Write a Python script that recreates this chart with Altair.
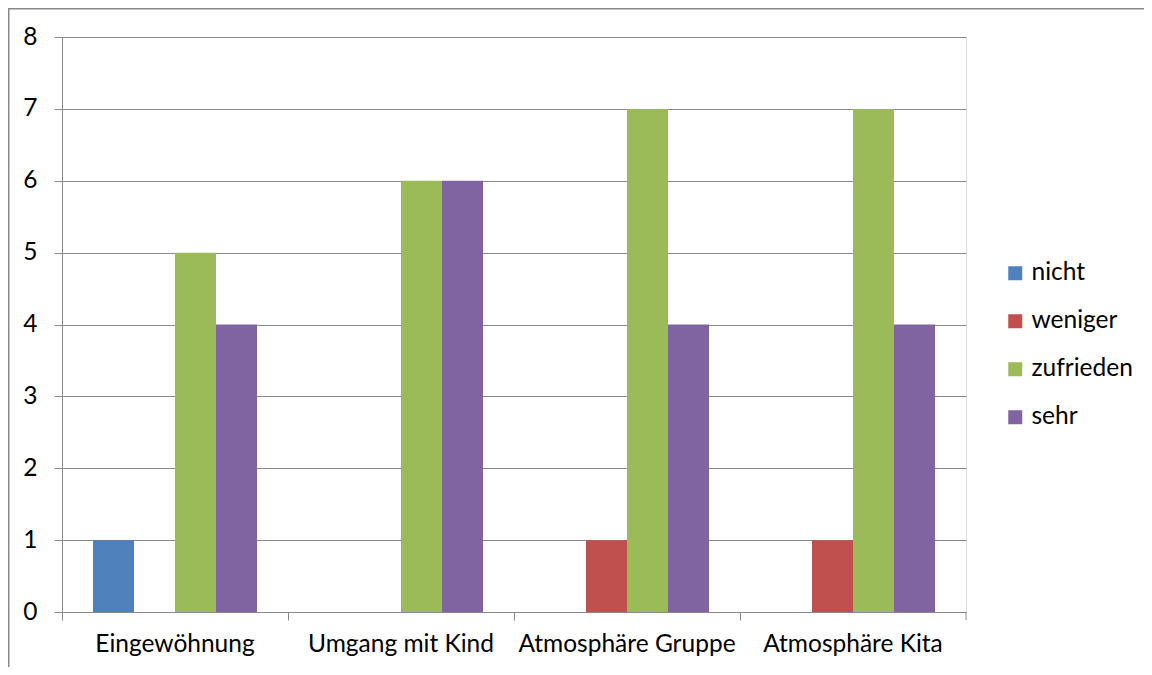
import altair as alt
import pandas as pd

categories = ["Eingewöhnung", "Umgang mit Kind", "Atmosphäre Gruppe", "Atmosphäre Kita"]
series = ["nicht", "weniger", "zufrieden", "sehr"]
colors = ["#4F81BD", "#C0504D", "#9BBB59", "#8064A2"]
nicht = [1, 0, 0, 0]
weniger = [0, 0, 1, 1]
zufrieden = [5, 6, 7, 7]
sehr = [4, 6, 4, 4]
y_ticks = [0, 1, 2, 3, 4, 5, 6, 7, 8]

rows = []
for i, c in enumerate(categories):
    for s, vals in zip(series, [nicht, weniger, zufrieden, sehr]):
        rows.append({"Kategorie": c, "Serie": s, "Wert": vals[i]})
df = pd.DataFrame(rows)

W, H = 904, 575
PL, PT, PR, PB = 54, 29, 178, 55
FONT = "Lato"
FS = 24.5
GRAY = "#898989"

bars = alt.Chart(df).mark_bar(strokeWidth=0).encode(
    x=alt.X("Kategorie:N", sort=categories, title=None,
            scale=alt.Scale(paddingInner=0, paddingOuter=0),
            axis=alt.Axis(labelAngle=0, bandPosition=0, tickSize=8, tickColor=GRAY,
                          domainColor=GRAY, labelPadding=12, labelFontSize=FS,
                          labelFont=FONT, labelColor="#000000", grid=False,
                          labelLimit=0, labelOverlap=False)),
    xOffset=alt.XOffset("Serie:N", sort=series,
                        scale=alt.Scale(paddingInner=0, paddingOuter=0.756)),
    y=alt.Y("Wert:Q", title=None,
            scale=alt.Scale(domain=[0, 8], nice=False),
            axis=alt.Axis(values=y_ticks, tickSize=8, tickColor=GRAY, domainColor=GRAY,
                          gridColor=GRAY, grid=True, labelPadding=17, labelFontSize=FS,
                          labelFont=FONT, labelColor="#000000")),
    color=alt.Color("Serie:N", sort=series,
                    scale=alt.Scale(domain=series, range=colors),
                    legend=alt.Legend(title=None, orient="none", legendX=941, legendY=224,
                                      symbolType="square", symbolSize=196,
                                      symbolStrokeWidth=0, labelFontSize=FS,
                                      labelFont=FONT, labelColor="#000000",
                                      labelOffset=4, rowPadding=23, padding=0)),
)

one = pd.DataFrame([{"k": 1}])
end_tick = alt.Chart(one).mark_rule(color=GRAY, strokeWidth=1).encode(
    x=alt.value(W), y=alt.value(H), y2=alt.value(H + 8))

border_left = alt.Chart(one).mark_rule(color=GRAY, strokeWidth=1.5).encode(
    x=alt.value(-PL + 0.75), y=alt.value(-PT), y2=alt.value(H + PB + 40))
border_top = alt.Chart(one).mark_rule(color=GRAY, strokeWidth=1.5).encode(
    y=alt.value(-PT + 0.75), x=alt.value(-PL), x2=alt.value(W + PR + 40))

chart = alt.layer(bars, end_tick, border_left, border_top).properties(
    width=W, height=H,
    autosize=alt.AutoSizeParams(type="none"),
    padding={"left": PL, "top": PT, "right": PR, "bottom": PB},
).configure_view(strokeWidth=0).configure(background="white")

chart.save("out.html", embed_options={"renderer": "svg", "actions": False})
